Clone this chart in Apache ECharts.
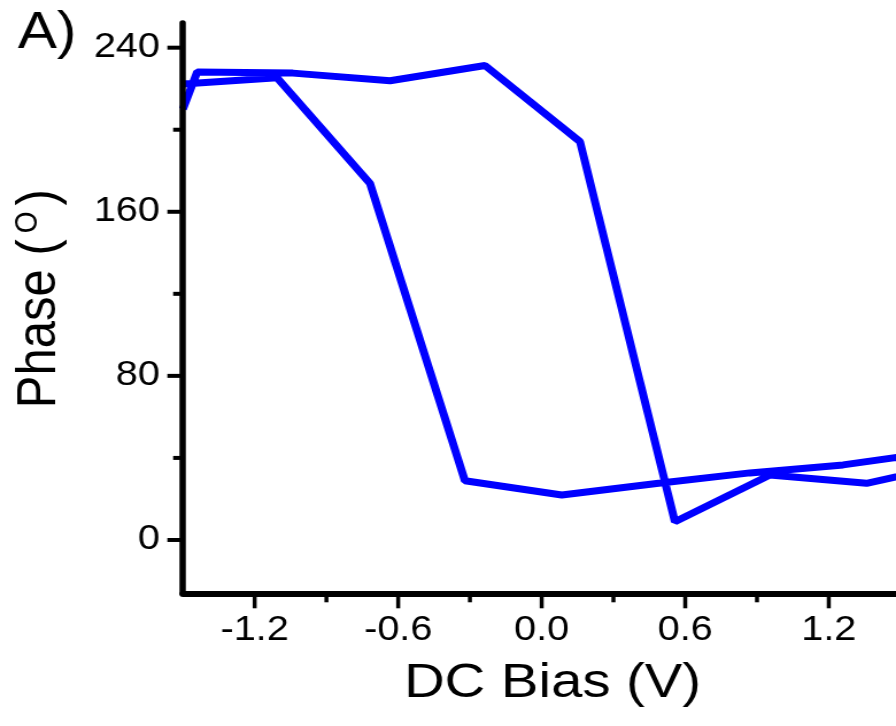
<!DOCTYPE html>
<html>
<head>
<meta charset="utf-8">
<script src="https://cdn.jsdelivr.net/npm/echarts@6/dist/echarts.min.js"></script>
<style>
  html, body { margin: 0; padding: 0; background: #fff; overflow: hidden; }
  /* the figure is laid out on a narrower canvas and widened horizontally */
  #chart { width: 780px; height: 726px; transform: scaleX(1.148718); transform-origin: 0 0; }
</style>
</head>
<body>
<div id="chart"></div>
<script>
// Forward sweep: bias increasing from negative to positive
const biasUp  = [-1.50, -1.44, -1.04, -0.634, -0.237, 0.160, 0.557, 0.954, 1.358, 1.76];
const phaseUp = [210.0, 228.2, 227.6, 223.9, 231.3, 194.2, 8.9, 31.7, 27.6, 38.0];

// Reverse sweep: bias decreasing from positive to negative
const biasDown  = [1.65, 1.26, 0.87, 0.48, 0.084, -0.321, -0.718, -1.106, -1.50];
const phaseDown = [43.0, 36.6, 32.7, 27.5, 21.9, 28.9, 173.9, 225.3, 222.3];

// Tick positions
const xMajorTicks = [-1.2, -0.6, 0.0, 0.6, 1.2];
const xMinorTicks = [-0.9, -0.3, 0.3, 0.9];
const yMajorTicks = [0, 80, 160, 240];
const yMinorTicks = [40, 120, 200];

// Axis extents
const xRange = [-1.5, 1.8];
const yRange = [-26, 252];

const FONT = "'Liberation Sans', Arial, Helvetica, sans-serif";
const black = '#000';

const loop = biasUp.map((b, i) => [b, phaseUp[i]])
  .concat(biasDown.map((b, i) => [b, phaseDown[i]]));

// Outward tick marks, placed through the axes' own scales
function xTickSeries(values, len) {
  return {
    type: 'custom', coordinateSystem: 'cartesian2d', xAxisIndex: 0, yAxisIndex: 0,
    clip: false, silent: true, z: 6,
    data: values.map(v => [v, yRange[0]]),
    renderItem: (params, api) => {
      const p = api.coord([api.value(0), api.value(1)]);
      return { type: 'line', shape: { x1: p[0], y1: p[1], x2: p[0], y2: p[1] + len },
               style: { stroke: black, lineWidth: 3.5 } };
    }
  };
}
function yTickSeries(values, len) {
  return {
    type: 'custom', coordinateSystem: 'cartesian2d', xAxisIndex: 0, yAxisIndex: 0,
    clip: false, silent: true, z: 6,
    data: values.map(v => [xRange[0], v]),
    renderItem: (params, api) => {
      const p = api.coord([api.value(0), api.value(1)]);
      return { type: 'line', shape: { x1: p[0] - len, y1: p[1], x2: p[0], y2: p[1] },
               style: { stroke: black, lineWidth: 4 } };
    }
  };
}

const chart = echarts.init(document.getElementById('chart'), null, { renderer: 'canvas' });

chart.setOption({
  animation: false,
  backgroundColor: '#fff',
  title: {
    text: 'A)', left: 15.5, top: 8, padding: 0,
    textStyle: { fontSize: 51, fontWeight: 'normal', color: black, fontFamily: FONT }
  },
  grid: {
    left: 159.2, top: 23.07, width: 687.2, height: 570.23,
    containLabel: false, outerBoundsMode: 'none'
  },
  xAxis: {
    type: 'value', min: xRange[0], max: xRange[1], position: 'bottom', z: 5,
    axisLine: { show: true, onZero: false, lineStyle: { color: black, width: 6 } },
    axisTick: { show: false },
    axisLabel: { show: true, customValues: xMajorTicks, margin: 20,
                 formatter: v => Number(v).toFixed(1),
                 color: black, fontSize: 34.5, fontFamily: FONT },
    splitLine: { show: false },
    name: 'DC Bias (V)', nameLocation: 'middle', nameGap: 66, nameMoveOverlap: false,
    nameTextStyle: { color: black, fontSize: 49, fontFamily: FONT, padding: [0, 43.6, 0, 0] }
  },
  yAxis: {
    type: 'value', min: yRange[0], max: yRange[1], position: 'left', z: 5,
    axisLine: { show: true, onZero: false, lineStyle: { color: black, width: 5.5 } },
    axisTick: { show: false },
    axisLabel: { show: true, customValues: yMajorTicks, margin: 20,
                 color: black, fontSize: 34.5, fontFamily: FONT },
    splitLine: { show: false },
    name: 'Phase ({sup|O})', nameLocation: 'middle', nameRotate: 90, nameGap: 100,
    nameMoveOverlap: false,
    nameTextStyle: {
      color: black, fontSize: 49, fontFamily: FONT, lineHeight: 49, padding: [0, 0, 0, 19],
      rich: { sup: { color: black, fontSize: 28, fontFamily: FONT, lineHeight: 14,
                     verticalAlign: 'top', padding: [0, 6, 0, 6] } }
    }
  },
  series: [
    {
      type: 'line', xAxisIndex: 0, yAxisIndex: 0, data: loop,
      showSymbol: false, symbol: 'none', clip: true, z: 2,
      lineStyle: { color: '#0000ff', width: 7 }
    },
    xTickSeries(xMajorTicks, 15),
    xTickSeries(xMinorTicks, 9),
    yTickSeries(yMajorTicks, 13.5),
    yTickSeries(yMinorTicks, 8.5)
  ]
});
</script>
</body>
</html>
